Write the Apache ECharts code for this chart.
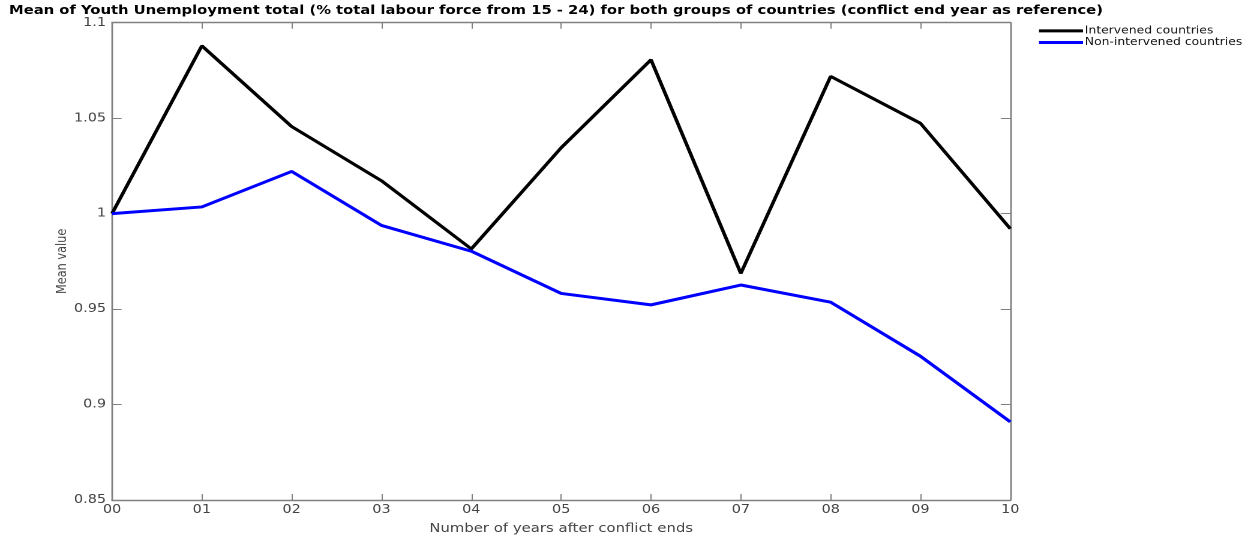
<!DOCTYPE html>
<html>
<head>
<meta charset="utf-8">
<script src="https://cdn.jsdelivr.net/npm/echarts@6/dist/echarts.min.js"></script>
<style>
  html, body { margin: 0; padding: 0; background: #fff; overflow: hidden; }
  #wrap { width: 1258px; height: 540px; overflow: hidden; }
  /* the figure is laid out narrower and widened on screen, which gives its wide lettering */
  #chart { height: 540px; transform-origin: 0 0; }
</style>
</head>
<body>
<div id="wrap"><div id="chart"></div></div>
<script>
// Years after the conflict ended
const years = ['00', '01', '02', '03', '04', '05', '06', '07', '08', '09', '10'];

// Mean youth unemployment, normalised to the conflict end year
const intervened = [1.0, 1.0879, 1.0456, 1.0172, 0.9815, 1.0345, 1.0806, 0.9687, 1.0719, 1.0473, 0.9921];
const nonIntervened = [1.0, 1.0035, 1.0221, 0.9938, 0.9803, 0.9582, 0.9522, 0.9626, 0.9536, 0.9253, 0.8909];

const STRETCH = 1.2;
const W = 1258 / STRETCH;
const el = document.getElementById('chart');
el.style.width = W + 'px';
el.style.transform = 'scaleX(' + STRETCH + ')';

const axisColor = '#808080';
const labelColor = '#444';
const font = 'DejaVu Sans';

const chart = echarts.init(el, null, { renderer: 'canvas', devicePixelRatio: 2 });

function frame(tickLen) {
  return {
    axisLine: { show: true, lineStyle: { color: axisColor, width: 1.4 } },
    axisTick: { show: true, inside: true, length: tickLen, lineStyle: { color: axisColor, width: 1 } },
    splitLine: { show: false }
  };
}

const plotLeft = 112 / STRETCH;
const plotRight = 1010.7 / STRETCH;

chart.setOption({
  animation: false,
  title: {
    text: 'Mean of Youth Unemployment total (% total labour force from 15 - 24) for both groups of countries (conflict end year as reference)',
    left: 7.5,
    top: 5,
    padding: 0,
    textStyle: { fontFamily: font, fontWeight: 'bold', fontSize: 12.3, color: '#000' }
  },
  legend: {
    orient: 'vertical',
    left: 1039 / STRETCH,
    top: 25,
    padding: 0,
    itemWidth: 44 / STRETCH,
    itemHeight: 3,
    itemGap: 0,
    icon: 'rect',
    textStyle: { fontFamily: font, fontSize: 10.3, lineHeight: 11.7, color: '#111', padding: [0, 0, 0, -3.5] },
    data: ['Intervened countries', 'Non-intervened countries']
  },
  grid: { left: plotLeft, right: W - plotRight, top: 22.7, bottom: 37, containLabel: false },
  xAxis: [
    Object.assign({
      type: 'category',
      data: years,
      boundaryGap: false,
      name: 'Number of years after conflict ends',
      nameLocation: 'middle',
      nameGap: 23,
      nameMoveOverlap: false,
      nameTextStyle: { fontFamily: font, fontSize: 12.4, color: labelColor },
      axisLabel: { fontFamily: font, fontSize: 12, color: labelColor, margin: 4 }
    }, frame(6)),
    Object.assign({
      type: 'category',
      data: years,
      boundaryGap: false,
      position: 'top',
      axisLabel: { show: false }
    }, frame(6))
  ],
  yAxis: [
    Object.assign({
      type: 'value',
      min: 0.85,
      max: 1.1,
      interval: 0.05,
      name: 'Mean value',
      nameLocation: 'middle',
      nameRotate: 90,
      nameGap: 36,
      nameMoveOverlap: false,
      nameTextStyle: { fontFamily: font, fontSize: 11.3, color: labelColor },
      axisLabel: {
        fontFamily: font, fontSize: 12, color: labelColor, margin: 5,
        formatter: v => String(parseFloat(v.toFixed(2)))
      }
    }, frame(8)),
    Object.assign({
      type: 'value',
      min: 0.85,
      max: 1.1,
      interval: 0.05,
      position: 'right',
      axisLabel: { show: false }
    }, frame(8))
  ],
  series: [
    {
      name: 'Intervened countries',
      type: 'line',
      data: intervened,
      showSymbol: false,
      lineStyle: { color: '#000', width: 3 },
      itemStyle: { color: '#000' }
    },
    {
      name: 'Non-intervened countries',
      type: 'line',
      data: nonIntervened,
      showSymbol: false,
      lineStyle: { color: '#0000ff', width: 3 },
      itemStyle: { color: '#0000ff' }
    }
  ]
});
</script>
</body>
</html>
